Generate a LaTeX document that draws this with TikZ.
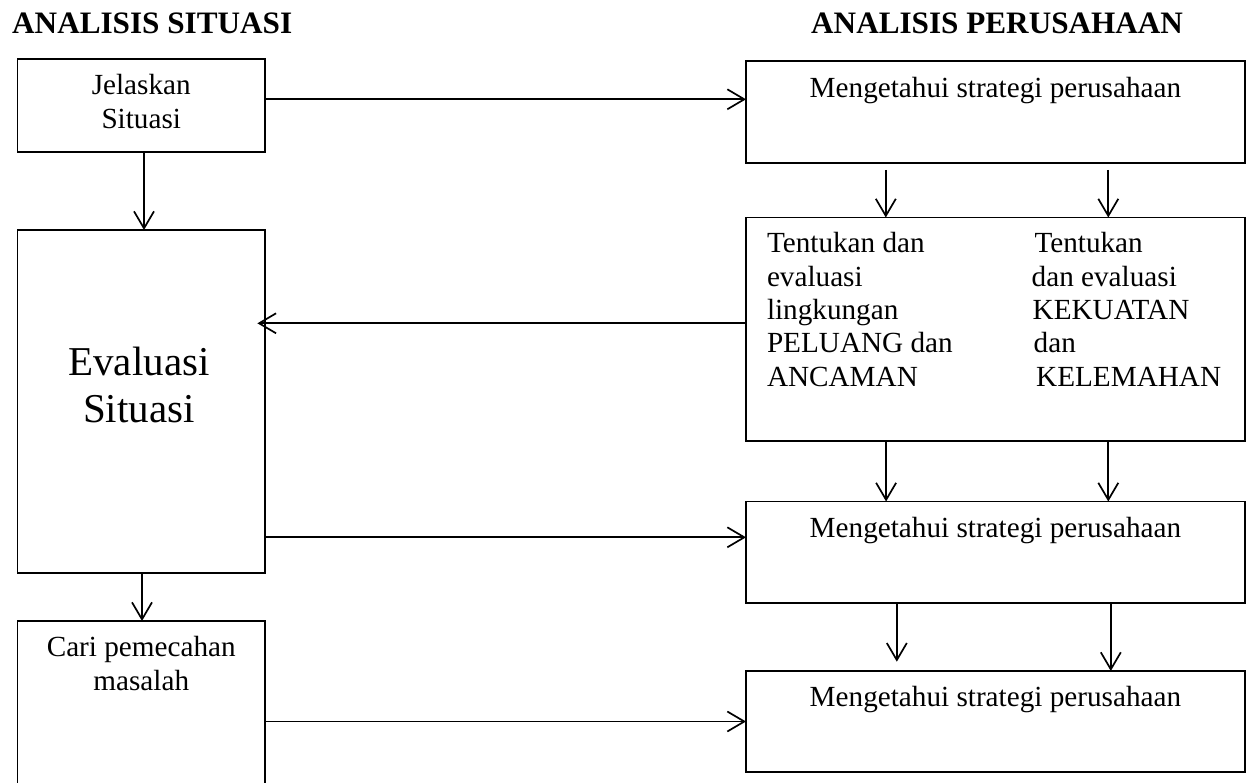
\documentclass[tikz,border=0pt]{standalone}
\usepackage{fontspec}
\setmainfont{Liberation Serif}
\usetikzlibrary{arrows.meta}
\begin{document}
\begin{tikzpicture}[x=1pt,y=-1pt,
  box/.style={draw,line width=1.9pt,inner sep=0pt,outer sep=0pt,anchor=north west},
  arr/.style={line width=1.7pt,-{Straight Barb[length=17pt,width=20pt]}},
  txt/.style={inner sep=0pt,anchor=base,font=\fontsize{29.2}{33.4}\selectfont},
  bigtxt/.style={inner sep=0pt,anchor=base,font=\fontsize{41}{47}\selectfont},
  head/.style={inner sep=0pt,anchor=base west,font=\fontsize{31.2}{36}\selectfont\bfseries}]
\useasboundingbox (0,0) rectangle (1246,783);
\fill[white] (0,0) rectangle (1246,783);

% column headings
\node[head] (h1) at (12,33.3) {ANALISIS SITUASI};
\node[head] (h2) at (811,33.3) {ANALISIS PERUSAHAAN};

% left column boxes
\node[box,minimum width=247.5pt,minimum height=92.4pt] (b1) at (17.5,59.3) {};
\node[box,minimum width=247.5pt,minimum height=343pt] (b2) at (17.5,230) {};
\node[box,minimum width=247.5pt,minimum height=163pt] (b3) at (17.5,621) {};

% right column boxes
\node[box,minimum width=498.8pt,minimum height=102.3pt] (r1) at (746,61) {};
\node[box,minimum width=498.8pt,minimum height=223.5pt] (r2) at (746,217.5) {};
\node[box,minimum width=498.8pt,minimum height=101.8pt] (r3) at (746,501.5) {};
\node[box,minimum width=498.8pt,minimum height=101pt] (r4) at (746,671) {};

% box texts
\node[txt] (tb1) at (141.25,95) {\begin{tabular}[t]{@{}c@{}}Jelaskan\\Situasi\end{tabular}};
\node[bigtxt] (tb2) at (139,375) {\begin{tabular}[t]{@{}c@{}}Evaluasi\\Situasi\end{tabular}};
\node[txt] (tb3) at (141.25,656.7) {\begin{tabular}[t]{@{}c@{}}Cari pemecahan\\masalah\end{tabular}};

\node[txt] (tr1) at (995.4,97.5) {Mengetahui strategi perusahaan};
\node[txt,anchor=base west] (tr2a) at (766.8,252.7) {\begin{tabular}[t]{@{}l@{}}Tentukan dan\\evaluasi\\lingkungan\\PELUANG dan\\ANCAMAN\end{tabular}};
\node[txt,anchor=base west] (tr2b) at (1031.5,252.7) {\begin{tabular}[t]{@{}l@{}}\hspace*{2.8pt}Tentukan\\dan evaluasi\\\hspace*{1pt}KEKUATAN\\\hspace*{2pt}dan\\\hspace*{4.5pt}KELEMAHAN\end{tabular}};
\node[txt] (tr3) at (995.4,537.3) {Mengetahui strategi perusahaan};
\node[txt] (tr4) at (995.4,706.7) {Mengetahui strategi perusahaan};

% left column flow
\draw[arr] ([xshift=2.75pt]b1.south) -- ([xshift=2.75pt]b2.north);
\draw[arr] ([xshift=0.75pt]b2.south) -- ([xshift=0.75pt]b3.north);

% links between the columns
\draw[arr] ([yshift=6.2pt]b1.east) -- ([yshift=6.2pt]b1.east -| r1.west);
\draw[arr,shorten >=-7.6pt] ([yshift=5.95pt]r2.west) -- ([yshift=5.95pt]r2.west -| b2.east);
\draw[arr] ([yshift=15.1pt]r3.west -| b2.east) -- ([yshift=15.1pt]r3.west);
\draw[arr] (b3.east |- r4.west) -- (r4.west);

% right column flow
\draw[arr,shorten <=6.7pt] ([xshift=-109.6pt]r1.south) -- ([xshift=-109.6pt]r2.north);
\draw[arr,shorten <=6.7pt] ([xshift=112.9pt]r1.south) -- ([xshift=112.9pt]r2.north);
\draw[arr] ([xshift=-109.3pt]r2.south) -- ([xshift=-109.3pt]r3.north);
\draw[arr] ([xshift=112.9pt]r2.south) -- ([xshift=112.9pt]r3.north);
\draw[arr,shorten >=9.3pt] ([xshift=-98.6pt]r3.south) -- ([xshift=-98.6pt]r4.north);
\draw[arr] ([xshift=115.4pt]r3.south) -- ([xshift=115.4pt]r4.north);
\end{tikzpicture}
\end{document}
